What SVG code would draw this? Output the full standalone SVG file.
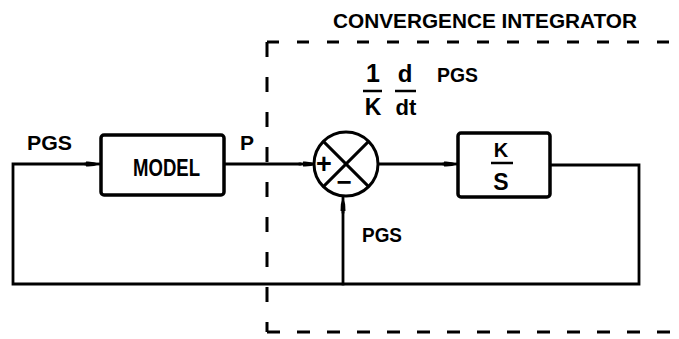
<svg xmlns="http://www.w3.org/2000/svg" width="679" height="339" viewBox="0 0 679 339">
<style>
  .ln { fill: none; stroke: #000; stroke-width: 2.8; stroke-linecap: square; }
  .box { fill: #fff; stroke: #000; stroke-width: 3.5; }
  .dash { fill: none; stroke: #000; stroke-width: 3; }
  .t { font-family: "Liberation Sans", Arial, sans-serif; font-weight: bold; fill: #000; }
  .bar { stroke: #000; stroke-width: 2.5; }
</style>
<defs>
  <marker id="arr" markerUnits="userSpaceOnUse" markerWidth="16" markerHeight="10" refX="14" refY="5" orient="auto">
    <path d="M0,2.5 Q7,2 14,5 Q7,8 0,7.5 z" fill="#000"/>
  </marker>
</defs>
<rect width="679" height="339" fill="#fff"/>

<!-- dashed boundary -->
<g id="boundary">
  <path class="dash" d="M267,42 H679" stroke-dasharray="12 18"/>
  <path class="dash" d="M267,42 V332" stroke-dasharray="15 20"/>
  <path class="dash" d="M267,332 H679" stroke-dasharray="13 17"/>
  <text class="t" x="333" y="28" font-size="21" textLength="304" lengthAdjust="spacingAndGlyphs">CONVERGENCE INTEGRATOR</text>
</g>

<!-- connectors -->
<g id="connectors">
  <path class="ln" d="M550,165 H639 V284 H13 V164 H86"/>
  <path class="ln" d="M86,164 H100" marker-end="url(#arr)"/>
  <path class="ln" d="M224,164 H300"/>
  <path class="ln" d="M300,164 H317" marker-end="url(#arr)"/>
  <path class="ln" d="M378,164 H444"/>
  <path class="ln" d="M444,164 H458" marker-end="url(#arr)"/>
  <path class="ln" d="M343,284 V212"/>
  <path class="ln" d="M343,212 V197" marker-end="url(#arr)"/>
</g>

<g id="model">
  <rect class="box" x="101" y="135" width="123" height="60" rx="3"/>
  <text class="t" x="133" y="176" font-size="23" textLength="67" lengthAdjust="spacingAndGlyphs">MODEL</text>
</g>

<g id="sum">
  <circle cx="346" cy="164" r="32" fill="#fff" stroke="#000" stroke-width="3"/>
  <line x1="323.4" y1="141.4" x2="368.6" y2="186.6" stroke="#000" stroke-width="3"/>
  <line x1="368.6" y1="141.4" x2="323.4" y2="186.6" stroke="#000" stroke-width="3"/>
  <text class="t" x="324" y="173" font-size="27" text-anchor="middle">+</text>
  <text class="t" x="344" y="191" font-size="26" text-anchor="middle">−</text>
</g>

<g id="integrator">
  <rect class="box" x="458" y="133" width="92" height="64" rx="3"/>
  <text class="t" x="501" y="157" font-size="20" text-anchor="middle">K</text>
  <line class="bar" x1="491" y1="163" x2="513" y2="163"/>
  <text class="t" x="501" y="190" font-size="23" text-anchor="middle">S</text>
</g>

<g id="labels">
  <text class="t" x="27" y="150" font-size="20" textLength="45" lengthAdjust="spacingAndGlyphs">PGS</text>
  <text class="t" x="240" y="150" font-size="21">P</text>
  <text class="t" x="362" y="242" font-size="21" textLength="40" lengthAdjust="spacingAndGlyphs">PGS</text>
  <text class="t" x="373" y="82" font-size="25" text-anchor="middle">1</text>
  <line class="bar" x1="363" y1="91" x2="382" y2="91"/>
  <text class="t" x="373" y="115" font-size="23" text-anchor="middle">K</text>
  <text class="t" x="405" y="82" font-size="24" text-anchor="middle">d</text>
  <line class="bar" x1="395" y1="91" x2="416" y2="91"/>
  <text class="t" x="406" y="115" font-size="22" text-anchor="middle">dt</text>
  <text class="t" x="437" y="82" font-size="21" textLength="41" lengthAdjust="spacingAndGlyphs">PGS</text>
</g>
</svg>
